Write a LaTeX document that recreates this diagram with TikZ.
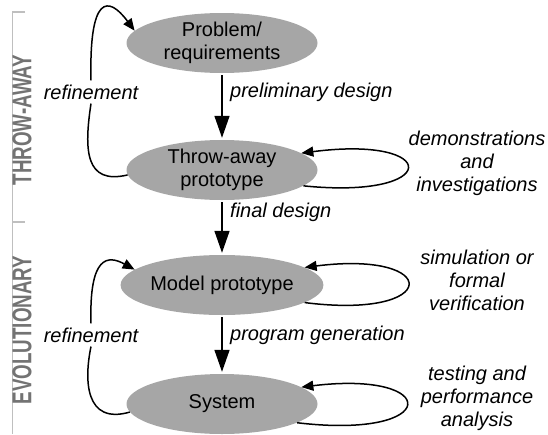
\documentclass[tikz,border=0pt]{standalone}
\usepackage{fontspec}
\setmainfont{Liberation Sans}
\usetikzlibrary{arrows.meta,shapes.geometric}

\begin{document}
\begin{tikzpicture}[x=1pt,y=1pt,
  stage/.style={ellipse,fill=gray!70,minimum width=191pt,minimum height=60pt,inner sep=0pt,align=center,font=\fontsize{20}{23}\selectfont},
  lbl/.style={font=\fontsize{20}{23}\selectfont\itshape,align=center,inner sep=4pt},
  phase/.style={font=\fontsize{18.8}{18.8}\selectfont\bfseries,text=black!55,rotate=90,yscale=1.45,inner sep=0pt},
  flow/.style={line width=1.5pt,-{Triangle[length=22pt,width=15pt]},shorten <=2pt,shorten >=2pt},
  iter/.style={line width=1.5pt}]

\useasboundingbox (0,0) rectangle (548,-434);

% left margin
\draw[gray!50,line width=1.5pt] (25,-12) -- (12.5,-12) -- (12.5,-434);
\draw[gray!50,line width=1.5pt] (12.5,-222) -- (25,-222);
\node[phase] (tw) at (22,-120) {THROW-AWAY};
\node[phase] (ev) at (22,-330) {EVOLUTIONARY};

\node[stage] (prob) at (222,-43) {Problem/\\requirements};
\node[stage] (throw) at (222,-170) {Throw-away\\prototype};
\node[stage] (model) at (222,-285) {Model prototype};
\node[stage] (sys) at (222,-404) {System};

\draw[flow] (prob) -- (throw);
\draw[flow] (throw) -- (model);
\draw[flow] (model) -- (sys);
\node[lbl,anchor=west] (prelim) at (226,-92) {preliminary design};
\node[lbl,anchor=west] (final) at (226,-212) {final design};
\node[lbl,anchor=west] (gen) at (226,-335) {program generation};

% refinement loops
\node[lbl] (ref1) at (91,-92) {refinement};
\node[lbl] (ref2) at (91,-335) {refinement};
\draw[iter] (throw.183) .. controls (85,-185) and (84,-150) .. (ref1.south);
\draw[iter,-{Triangle[length=12pt,width=10pt]}] (ref1.north) .. controls (89,5) and (108,5) .. (prob.172);
\draw[iter] (sys.185) .. controls (85,-425) and (84,-380) .. (ref2.south);
\draw[iter,-{Triangle[length=12pt,width=10pt]}] (ref2.north) .. controls (89,-255) and (108,-255) .. (model.170);

% self loops
\draw[iter,-{Triangle[length=12pt,width=10pt]}] (throw.-11) .. controls (442,-200) and (442,-135) .. (throw.12);
\draw[iter,-{Triangle[length=12pt,width=10pt]}] (model.-12) .. controls (442,-320) and (442,-250) .. (model.12);
\draw[iter,-{Triangle[length=12pt,width=10pt]}] (sys.-14) .. controls (442,-440) and (442,-370) .. (sys.12);
\node[lbl] (demo) at (477,-163) {demonstrations\\and\\investigations};
\node[lbl] (simu) at (477,-280) {simulation or\\formal\\verification};
\node[lbl] (test) at (477,-398) {testing and\\performance\\analysis};
\end{tikzpicture}
\end{document}
